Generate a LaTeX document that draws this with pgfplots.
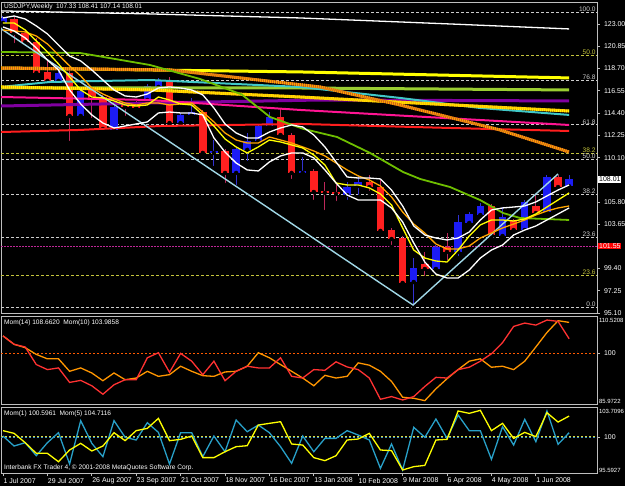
\documentclass[border=0pt]{standalone}
\usepackage{pgfplots}
\pgfplotsset{compat=1.18}
\usepackage{pgfplotstable}
\usepackage{fontspec}
\setmainfont{Liberation Sans}
\definecolor{bull}{RGB}{28,28,245}
\definecolor{bear}{RGB}{255,32,32}
\definecolor{bullwick}{RGB}{50,50,210}
\definecolor{bearwick}{RGB}{190,40,90}
\definecolor{fibw}{RGB}{205,205,205}
\definecolor{fiby}{RGB}{195,195,60}
\definecolor{maYellow}{RGB}{255,255,0}
\definecolor{maOrange}{RGB}{255,165,0}
\definecolor{ygreen}{RGB}{154,205,50}
\definecolor{lgreen}{RGB}{110,190,0}
\definecolor{mpurple}{RGB}{128,0,160}
\definecolor{mteal}{RGB}{64,200,200}
\definecolor{mbrown}{RGB}{200,90,30}
\definecolor{mpink}{RGB}{255,20,147}
\definecolor{mred}{RGB}{255,30,30}
\definecolor{zz}{RGB}{160,215,230}
\definecolor{mag}{RGB}{190,40,150}
\definecolor{scalec}{RGB}{190,190,190}
\definecolor{momred}{RGB}{255,50,50}
\definecolor{momorange}{RGB}{255,150,0}
\definecolor{momteal}{RGB}{40,160,200}
\definecolor{momyellow}{RGB}{255,255,0}
\definecolor{lvlorange}{RGB}{255,90,0}
\definecolor{lvlyellow}{RGB}{220,220,60}
\definecolor{lvlteal}{RGB}{60,150,200}

\pgfplotstableread{
i o h l c
0 123.10 123.77 122.81 123.58
5 117.50 118.46 117.30 118.27
7 114.12 116.73 113.93 116.53
10 112.77 115.18 112.67 114.99
13 115.66 117.21 115.47 117.01
14 116.92 117.79 116.73 117.59
16 113.44 114.41 113.25 114.22
17 114.22 115.86 114.02 114.50
19 110.55 111.80 109.10 110.74
21 108.62 111.13 107.26 110.93
22 110.84 112.48 109.58 111.71
23 111.71 113.35 111.51 113.15
24 113.15 114.50 112.96 114.02
27 108.62 110.16 108.42 108.81
31 106.49 107.75 105.82 107.26
32 107.36 108.42 106.30 107.75
37 98.09 100.41 95.68 99.44
39 99.35 101.66 99.16 101.47
41 100.99 104.56 100.41 103.89
42 103.79 104.85 103.60 104.66
43 104.56 105.72 104.37 105.43
45 102.53 105.33 102.34 104.37
47 103.11 106.01 102.92 105.82
49 104.85 108.42 104.66 108.23
51 107.33 108.41 107.14 108.01
}\bulltab

\pgfplotstableread{
i o h l c
1 123.48 123.68 120.97 122.13
2 122.13 122.32 121.07 121.26
3 121.26 121.65 118.08 118.27
4 118.37 119.52 117.11 117.50
6 118.27 118.46 111.51 114.12
8 116.63 116.82 113.73 115.86
9 115.95 116.15 112.57 112.86
11 115.28 115.47 113.93 114.99
12 115.37 115.57 114.70 114.89
15 117.59 117.88 113.25 113.44
18 114.50 114.70 110.35 110.55
20 110.74 110.93 107.46 108.62
25 114.02 114.89 112.09 112.28
26 112.28 112.48 107.84 108.62
28 108.81 109.00 105.82 106.78
29 106.88 107.75 104.85 106.69
30 106.78 107.65 105.72 106.59
33 107.75 108.42 106.69 107.26
34 107.26 107.94 102.92 103.02
35 103.11 103.31 101.47 102.24
36 102.34 102.53 97.90 98.00
38 99.83 100.99 98.48 99.35
40 101.47 102.82 100.02 100.99
44 105.43 105.62 102.44 102.63
46 103.98 104.18 103.02 103.11
48 105.43 106.49 104.56 104.75
50 108.23 108.42 107.07 107.26
}\beartab

\pgfplotstableread{
i W1 W2 Y O
0 123.58 122.71 123.10 122.42
1 123.77 122.32 123.10 122.32
2 123.48 121.65 122.42 122.23
3 122.81 120.68 121.36 121.84
4 122.04 119.52 120.30 121.07
5 120.97 118.56 119.14 120.01
6 119.91 116.63 117.88 118.95
7 119.43 115.28 116.63 117.98
8 118.56 114.22 115.95 116.82
9 117.59 113.44 115.86 116.24
10 116.63 112.96 115.57 115.76
11 116.05 113.15 115.18 115.37
12 115.95 113.35 115.08 115.18
13 116.24 113.54 115.18 115.37
14 116.82 114.41 115.95 115.37
15 116.92 114.50 115.66 115.18
16 116.82 114.41 115.28 115.28
17 116.63 114.41 115.18 115.37
18 116.15 114.22 114.22 114.50
19 114.89 112.00 113.15 113.54
20 113.35 110.64 111.90 112.48
21 112.48 109.58 111.13 111.80
22 112.00 108.91 110.55 111.51
23 112.00 108.81 111.13 111.51
24 112.57 109.68 111.80 112.09
25 112.96 110.26 111.61 111.80
26 113.25 110.55 111.32 111.51
27 113.06 110.55 111.03 111.13
28 112.28 110.07 110.35 110.74
29 111.13 108.91 109.39 110.26
30 109.68 107.65 107.65 109.58
31 108.23 106.49 107.46 108.91
32 108.13 106.01 107.46 108.33
33 108.13 106.01 107.17 107.94
34 108.04 106.01 106.59 107.36
35 106.97 105.24 105.53 106.30
36 105.43 103.89 103.31 104.85
37 103.50 101.86 101.18 103.69
38 102.63 100.02 100.41 102.82
39 102.34 98.86 100.12 101.76
40 102.15 98.48 100.02 101.28
41 102.34 98.48 101.18 101.28
42 102.92 99.25 102.53 101.57
43 104.08 100.41 103.60 102.34
44 105.04 101.18 104.08 102.82
45 105.24 101.66 104.08 103.31
46 105.33 102.63 103.98 103.69
47 105.43 103.11 104.18 104.08
48 105.82 103.50 104.66 104.56
49 106.40 104.08 105.33 104.95
50 106.97 104.66 106.01 105.24
51 107.46 105.24 106.69 105.43
}\matab

\pgfplotstableread{
i m10 m14 m1 m5
0 104.80 104.80 100.14 100.80
1 102.45 102.45 98.91 100.47
2 101.70 101.51 99.32 99.32
3 96.80 99.63 97.72 98.01
4 95.39 98.40 99.32 98.01
5 95.86 98.40 100.55 96.98
6 91.82 94.92 96.70 98.42
7 92.38 95.86 102.03 99.24
8 90.88 94.45 99.24 98.30
9 88.52 92.29 97.60 98.91
10 91.16 94.45 102.03 100.55
11 92.57 92.57 99.98 99.57
12 92.57 93.04 99.65 100.80
13 98.69 94.92 101.78 101.08
14 100.10 93.51 100.59 102.31
15 94.64 93.98 96.70 99.57
16 99.91 96.33 100.55 99.73
17 97.74 94.92 100.55 100.14
18 93.98 93.70 97.60 97.48
19 97.74 93.51 100.14 97.48
20 92.29 94.73 98.21 98.21
21 94.92 94.92 102.11 98.83
22 96.33 96.33 100.67 98.95
23 95.86 100.10 101.49 101.49
24 95.86 98.69 100.55 101.70
25 98.69 96.80 98.83 101.90
26 93.51 94.92 96.78 99.16
27 93.04 93.04 100.14 99.03
28 95.39 90.88 98.21 97.48
29 95.20 93.79 99.85 97.11
30 97.56 93.04 99.85 97.72
31 96.14 93.51 100.80 99.65
32 95.39 97.27 100.26 99.77
33 93.04 96.62 99.65 100.47
34 87.11 94.92 96.16 98.42
35 87.86 92.10 99.16 98.34
36 86.92 87.68 95.96 95.96
37 87.86 87.39 101.21 96.37
38 90.69 86.73 99.98 96.53
39 93.23 90.03 102.23 99.65
40 93.04 92.85 99.85 99.73
41 95.39 95.39 102.72 103.22
42 96.05 97.74 100.80 102.93
43 97.74 98.40 100.80 103.30
44 99.81 96.05 97.27 100.80
45 102.92 96.33 101.29 101.70
46 107.44 95.39 99.03 99.85
47 108.38 97.74 102.19 100.59
48 107.81 101.70 99.44 100.06
49 109.22 105.74 103.22 103.01
50 108.85 109.04 99.12 101.86
51 104.00 108.57 100.55 102.60
}\momtab

\newcommand{\tfont}{\fontsize{7}{8}\selectfont}
\newcommand{\hfont}{\fontsize{6.6}{7.5}\selectfont}
\newcommand{\sfont}{\fontsize{6}{7}\selectfont}

\begin{document}
\begin{tikzpicture}
\fill[black] (0,0) rectangle (625bp,-486bp);
\pgfplotsset{every axis/.append style={
  scale only axis, width=596bp, xmin=-0.18, xmax=53.51,
  axis line style={draw=scalec, line width=0.8bp},
  tick style={draw=scalec, line width=0.8bp},
  tick align=outside, major tick length=3bp,
  ticklabel style={font=\tfont, text=white},
  /pgf/number format/assume math mode=true,
  anchor=north west, clip mode=individual
}}

% ================= MAIN PRICE PANEL =================
\begin{axis}[at={(1bp,-2bp)}, height=311bp,
  ymin=95.10, ymax=125.12, xtick=\empty, ytick pos=right,
  ytick={123.00,120.85,118.70,116.55,114.40,112.25,110.10,105.80,103.65,99.40,97.25,95.10},
  yticklabels={123.00,120.85,118.70,116.55,114.40,112.25,110.10,105.80,103.65,99.40,97.25,95.10},
  yticklabel style={xshift=0.5bp}]

% Fibonacci levels (white set)
\addplot[fibw, line width=0.8bp, dash pattern=on 3bp off 2bp] coordinates {(-0.18,124.13) (53.51,124.13)};
\addplot[fibw, line width=0.8bp, dash pattern=on 3bp off 2bp] coordinates {(-0.18,117.53) (53.51,117.53)};
\addplot[fibw, line width=0.8bp, dash pattern=on 3bp off 2bp] coordinates {(-0.18,113.26) (53.51,113.26)};
\addplot[fibw, line width=0.8bp, dash pattern=on 3bp off 2bp] coordinates {(-0.18,109.90) (53.51,109.90)};
\addplot[fibw, line width=0.8bp, dash pattern=on 3bp off 2bp] coordinates {(-0.18,106.55) (53.51,106.55)};
\addplot[fibw, line width=0.8bp, dash pattern=on 3bp off 2bp] coordinates {(-0.18,102.39) (53.51,102.39)};
\addplot[fibw, line width=0.8bp, dash pattern=on 3bp off 2bp] coordinates {(-0.18,95.68) (53.51,95.68)};
% Fibonacci levels (yellow set)
\addplot[fiby, line width=0.8bp, dash pattern=on 3bp off 2bp] coordinates {(-0.18,120.01) (53.51,120.01)};
\addplot[fiby, line width=0.8bp, dash pattern=on 3bp off 2bp] coordinates {(-0.18,110.55) (53.51,110.55)};
\addplot[fiby, line width=0.8bp, dash pattern=on 3bp off 2bp] coordinates {(-0.18,98.72) (53.51,98.72)};
% price line
\addplot[mag, line width=0.9bp, dash pattern=on 1.5bp off 1.5bp] coordinates {(-0.18,101.55) (53.51,101.55)};

% candles: wicks
\addplot[only marks, mark=none, forget plot, error bars/.cd, y dir=plus, y explicit, error mark=none,
  error bar style={draw=bullwick, line width=1bp}]
  table[x=i, y=l, y error plus expr=\thisrow{h}-\thisrow{l}] {\bulltab};
\addplot[only marks, mark=none, forget plot, error bars/.cd, y dir=plus, y explicit, error mark=none,
  error bar style={draw=bearwick, line width=1bp}]
  table[x=i, y=l, y error plus expr=\thisrow{h}-\thisrow{l}] {\beartab};
% candles: bodies
\addplot[only marks, mark=none, forget plot, error bars/.cd, y dir=plus, y explicit, error mark=none,
  error bar style={draw=bull, line width=7.5bp}]
  table[x=i, y=o, y error plus expr=\thisrow{c}-\thisrow{o}] {\bulltab};
\addplot[only marks, mark=none, forget plot, error bars/.cd, y dir=plus, y explicit, error mark=none,
  error bar style={draw=bear, line width=7.5bp}]
  table[x=i, y=c, y error plus expr=\thisrow{o}-\thisrow{c}] {\beartab};

% long moving averages
\addplot[white, line width=1.3bp] coordinates {(-0.2,124.26) (13.24,123.97) (26.76,123.58) (40.27,123.00) (51,122.52)};
\addplot[ygreen, line width=3bp] coordinates {(-0.2,116.82) (26.76,116.82) (51,116.63)};
\addplot[mpurple, line width=3bp] coordinates {(-0.2,115.08) (13.24,115.37) (28.56,115.66) (51,115.57)};
\addplot[mteal, line width=2bp] coordinates {(-0.2,116.92) (4.23,117.40) (13.24,117.59) (26.76,116.92) (35.77,115.86) (42.97,114.89) (51,114.22)};
\addplot[maOrange, line width=3bp] coordinates {(-0.2,116.92) (13.24,116.63) (26.76,115.95) (51,114.60)};
\addplot[maYellow, line width=3bp, dash pattern=on 1bp off 1bp] coordinates {(-0.2,116.92) (13.24,116.63) (26.76,115.95) (51,114.60)};
\addplot[mpink, line width=2bp] coordinates {(-0.2,115.95) (13.24,115.66) (26.76,114.70) (51,113.25)};
\addplot[mred, line width=2bp] coordinates {(-0.2,112.57) (6.94,112.77) (14.14,113.15) (26.76,113.35) (40.27,112.96) (51,112.67)};
\addplot[maYellow, line width=3bp] coordinates {(-0.2,118.75) (26.76,118.37) (51,117.79)};
\addplot[mbrown, line width=3bp] coordinates {(-0.2,118.75) (15.05,118.56) (28.56,116.92) (35.77,115.18) (44.77,112.77) (51,110.64)};
\addplot[maOrange, line width=3bp, dash pattern=on 1bp off 1bp] coordinates {(-0.2,118.75) (15.05,118.56) (28.56,116.92) (35.77,115.18) (44.77,112.77) (51,110.64)};
\addplot[lgreen, line width=1.8bp] coordinates {(-0.2,120.30) (6.94,120.20) (13.24,119.04) (17.75,117.69) (21.5,116.20) (24.05,114.02) (27.03,112.88) (30.09,112.09) (33.06,110.55) (36.04,108.71) (37.57,108.04) (40.27,107.26) (42.97,106.01) (45.05,104.75) (46.58,104.27) (51,104.08)};

% zigzag
\addplot[zz, line width=1.4bp] coordinates {(-0.2,122.56) (36.94,95.87) (50.0,108.52)};

% short moving averages / envelopes
\addplot[maOrange, line width=1.3bp] table[x=i, y=O] {\matab};
\addplot[maYellow, line width=1.3bp] table[x=i, y=Y] {\matab};
\addplot[white, line width=1.3bp] table[x=i, y=W1] {\matab};
\addplot[white, line width=1.3bp] table[x=i, y=W2] {\matab};

% fib labels
\tikzset{fl/.style={anchor=south east, font=\hfont, inner sep=0.6bp}}
\node[fl, text=fibw] at (axis cs:53.45,124.13) {100.0};
\node[fl, text=fiby] at (axis cs:53.45,120.01) {50.0};
\node[fl, text=fibw] at (axis cs:53.45,117.53) {76.8};
\node[fl, text=fibw] at (axis cs:53.45,113.26) {61.8};
\node[fl, text=fiby] at (axis cs:53.45,110.55) {38.2};
\node[fl, text=fibw, anchor=north east] at (axis cs:53.45,110.55) {50.0};
\node[fl, text=fibw] at (axis cs:53.45,106.55) {38.2};
\node[fl, text=fibw] at (axis cs:53.45,102.39) {23.6};
\node[fl, text=fiby] at (axis cs:53.45,98.72) {23.6};
\node[fl, text=fibw] at (axis cs:53.45,95.68) {0.0};
% current price labels on scale
\node[anchor=west, fill=white, text=black, font=\tfont, inner sep=0.8bp] at (axis cs:53.62,108.01) {108.01};
\node[anchor=west, fill=red, text=white, font=\tfont, inner sep=0.8bp] at (axis cs:53.62,101.55) {101.55};
% header
\node[anchor=north west, text=white, font=\hfont, inner sep=0bp] at (rel axis cs:0,1) [xshift=3bp, yshift=-2bp] {USDJPY,Weekly\ \ 107.33 108.41 107.14 108.01};
\end{axis}

% ================= MOMENTUM 14 / 10 =================
\begin{axis}[at={(1bp,-316bp)}, height=88bp,
  ymin=85.79, ymax=110.35, xtick=\empty, ytick pos=right,
  ytick={100}, yticklabels={100}, yticklabel style={xshift=0.5bp}]
\addplot[lvlorange, line width=0.9bp, dash pattern=on 2bp off 2bp] coordinates {(-0.18,100) (53.51,100)};
\addplot[momorange, line width=1.3bp] table[x=i, y=m14] {\momtab};
\addplot[momred, line width=1.3bp] table[x=i, y=m10] {\momtab};
\node[anchor=north west, text=white, font=\hfont, inner sep=0bp] at (rel axis cs:0,1) [xshift=3bp, yshift=-4bp] {Mom(14) 108.6620\ \ Mom(10) 103.9858};
\node[anchor=north west, text=white, font=\sfont, inner sep=0.3bp] at (rel axis cs:1,1) [xshift=1.5bp, yshift=-2bp] {110.5208};
\node[anchor=south west, text=white, font=\sfont, inner sep=0.3bp] at (rel axis cs:1,0) [xshift=1.5bp, yshift=0bp] {85.9722};
\end{axis}

% ================= MOMENTUM 1 / 5 =================
\begin{axis}[at={(1bp,-407bp)}, height=66bp,
  ymin=95.59, ymax=103.71, ytick pos=right,
  ytick={100}, yticklabels={100}, yticklabel style={xshift=0.5bp},
  xtick={0,4,8,12,16,20,24,28,32,36,40,44,48}, xtick pos=bottom,
  xticklabels={1 Jul 2007,29 Jul 2007,26 Aug 2007,23 Sep 2007,21 Oct 2007,18 Nov 2007,16 Dec 2007,13 Jan 2008,10 Feb 2008,9 Mar 2008,6 Apr 2008,4 May 2008,1 Jun 2008},
  xticklabel style={anchor=north west, xshift=-3bp, yshift=1.5bp}]
\addplot[lvlyellow, line width=0.9bp, dash pattern=on 2bp off 2bp] coordinates {(-0.18,100.08) (53.51,100.08)};
\addplot[lvlteal, line width=0.9bp, dash pattern=on 2bp off 2bp] coordinates {(-0.18,99.92) (53.51,99.92)};
\addplot[momteal, line width=1.3bp] table[x=i, y=m1] {\momtab};
\addplot[momyellow, line width=1.3bp] table[x=i, y=m5] {\momtab};
\node[anchor=north west, text=white, font=\hfont, inner sep=0bp] at (rel axis cs:0,1) [xshift=3bp, yshift=-4bp] {Mom(1) 100.5961\ \ Mom(5) 104.7116};
\node[anchor=south west, text=white, font=\hfont, inner sep=0bp] at (rel axis cs:0,0) [xshift=3bp, yshift=2bp] {Interbank FX Trader 4, © 2001-2008 MetaQuotes Software Corp.};
\node[anchor=north west, text=white, font=\sfont, inner sep=0.3bp] at (rel axis cs:1,1) [xshift=1.5bp, yshift=-2bp] {103.7096};
\node[anchor=south west, text=white, font=\sfont, inner sep=0.3bp] at (rel axis cs:1,0) [xshift=1.5bp, yshift=0bp] {95.5927};
\end{axis}
\pgfresetboundingbox
\path (0,0) rectangle (625bp,-486bp);
\end{tikzpicture}
\end{document}
